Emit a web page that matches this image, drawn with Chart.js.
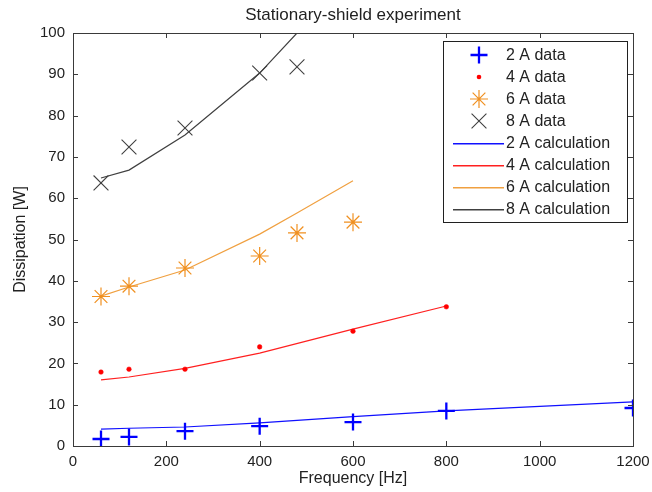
<!DOCTYPE html>
<html>
<head>
<meta charset="utf-8">
<script src="https://cdn.jsdelivr.net/npm/chart.js@4/dist/chart.umd.min.js"></script>
<style>
  html, body { margin: 0; padding: 0; background: #ffffff; }
  #c { display: block; }
</style>
</head>
<body>
<canvas id="c" width="652" height="492"></canvas>
<script>
// ---- data ----
const chartTitle = "Stationary-shield experiment";
const xLabel = "Frequency [Hz]";
const yLabel = "Dissipation [W]";
const xTicks = [0, 200, 400, 600, 800, 1000, 1200];
const yTicks = [0, 10, 20, 30, 40, 50, 60, 70, 80, 90, 100];

const freq2A = [60, 120, 240, 400, 600, 800, 1200];
const data2A = [1.7, 2.2, 3.6, 4.8, 5.8, 8.5, 9.2];
const calc2A = [4.1, 4.3, 4.6, 5.6, 7.1, 8.5, 10.7];

const freq4A = [60, 120, 240, 400, 600, 800];
const data4A = [17.9, 18.6, 18.6, 24.0, 27.8, 33.7];
const calc4A = [16.0, 16.7, 18.8, 22.5, 28.3, 33.9];

const freq6A = [60, 120, 240, 400, 480, 600];
const data6A = [36.2, 38.7, 43.1, 46.0, 51.6, 54.2];
const calc6A = [36.3, 38.5, 42.6, 51.3, 56.4, 64.2];

const freq8A = [60, 120, 240, 400, 480];
const data8A = [63.7, 72.4, 77.0, 90.3, 91.8];
const calc8A = [64.9, 66.8, 75.3, 90.3, 100.0];

const seriesLabels = ["2 A data", "4 A data", "6 A data", "8 A data",
                      "2 A calculation", "4 A calculation", "6 A calculation", "8 A calculation"];

function pts(xs, ys) { return xs.map((x, i) => ({ x: x, y: ys[i] })); }

const FONT = "'Liberation Sans', Arial, sans-serif";
const AXIS_COLOR = "#3a3a3a";

// style table for each series
const styles = [
  { line: false, marker: 'cross',    r: 8.5,  w: 2.3, color: '#0000ff' },
  { line: false, marker: 'circle',   r: 2.3,  w: 0.5, color: '#ff0000' },
  { line: false, marker: 'star',     r: 9,    w: 1.2, color: '#f09020' },
  { line: false, marker: 'crossRot', r: 10.5, w: 1.1, color: '#404040' },
  { line: true,  w: 1.2, color: '#1010ff' },
  { line: true,  w: 1.2, color: '#ff2020' },
  { line: true,  w: 1.2, color: '#f0a040' },
  { line: true,  w: 1.2, color: '#404040' }
];
const seriesData = [
  pts(freq2A, data2A), pts(freq4A, data4A), pts(freq6A, data6A), pts(freq8A, data8A),
  pts(freq2A, calc2A), pts(freq4A, calc4A), pts(freq6A, calc6A), pts(freq8A, calc8A)
];

const datasets = seriesData.map((d, i) => {
  const s = styles[i];
  if (s.line) {
    return { label: seriesLabels[i], data: d, showLine: true, pointRadius: 0,
             borderWidth: s.w, borderColor: s.color, backgroundColor: s.color };
  }
  return { label: seriesLabels[i], data: d, showLine: false,
           pointStyle: s.marker, pointRadius: s.r, pointBorderWidth: s.w,
           borderColor: s.color, backgroundColor: s.color };
});

function drawMarker(ctx, style, r, x, y) {
  ctx.beginPath();
  if (style === 'circle') {
    ctx.arc(x, y, r, 0, Math.PI * 2);
    ctx.fill();
    return;
  }
  const d = r * Math.SQRT1_2;
  if (style === 'cross' || style === 'star') {
    ctx.moveTo(x - r, y); ctx.lineTo(x + r, y);
    ctx.moveTo(x, y - r); ctx.lineTo(x, y + r);
  }
  if (style === 'crossRot' || style === 'star') {
    ctx.moveTo(x - d, y - d); ctx.lineTo(x + d, y + d);
    ctx.moveTo(x - d, y + d); ctx.lineTo(x + d, y - d);
  }
  ctx.stroke();
}

const matlabFrame = {
  id: 'matlabFrame',
  afterDatasetsDraw(chart) {
    const ctx = chart.ctx;
    const a = chart.chartArea;
    const xs = chart.scales.x, ys = chart.scales.y;
    ctx.save();
    // box
    ctx.strokeStyle = AXIS_COLOR;
    ctx.lineWidth = 1;
    ctx.strokeRect(Math.round(a.left) + 0.5, Math.round(a.top) + 0.5,
                   Math.round(a.right - a.left), Math.round(a.bottom - a.top));
    // inward ticks
    const tl = 5;
    ctx.beginPath();
    xs.ticks.forEach(t => {
      const px = Math.round(xs.getPixelForValue(t.value)) + 0.5;
      ctx.moveTo(px, a.bottom); ctx.lineTo(px, a.bottom - tl);
      ctx.moveTo(px, a.top); ctx.lineTo(px, a.top + tl);
    });
    ys.ticks.forEach(t => {
      const py = Math.round(ys.getPixelForValue(t.value)) + 0.5;
      ctx.moveTo(a.left, py); ctx.lineTo(a.left + tl, py);
      ctx.moveTo(a.right, py); ctx.lineTo(a.right - tl, py);
    });
    ctx.stroke();

    // title
    ctx.fillStyle = '#222222';
    ctx.font = "17px " + FONT;
    ctx.textAlign = 'center';
    ctx.textBaseline = 'middle';
    ctx.fillText(chartTitle, (a.left + a.right) / 2, 15);

    // legend
    const lx = 443, ly = 41, lw = 184, lh = 181;
    ctx.fillStyle = '#ffffff';
    ctx.fillRect(lx, ly, lw, lh);
    ctx.strokeStyle = '#202020';
    ctx.lineWidth = 1;
    ctx.strokeRect(lx + 0.5, ly + 0.5, lw, lh);
    ctx.font = "16px " + FONT;
    ctx.textAlign = 'left';
    ctx.textBaseline = 'middle';
    seriesLabels.forEach((lab, i) => {
      const s = styles[i];
      const cy = 55 + i * 22;
      if (s.line) {
        ctx.fillStyle = s.color;
        ctx.fillRect(453, cy, 51, 1.5);
      } else {
        ctx.strokeStyle = s.color;
        ctx.fillStyle = s.color;
        ctx.lineWidth = s.w;
        drawMarker(ctx, s.marker, s.r, 479, cy);
      }
      ctx.fillStyle = '#222222';
      ctx.fillText(lab, 506, cy + 1);
    });
    ctx.restore();
  }
};

new Chart(document.getElementById('c'), {
  type: 'scatter',
  data: { datasets: datasets },
  options: {
    responsive: false,
    animation: false,
    devicePixelRatio: 1,
    layout: { padding: { top: 33, right: 19, left: 0, bottom: 0 } },
    plugins: {
      legend: { display: false },
      title: { display: false },
      tooltip: { enabled: false }
    },
    scales: {
      x: {
        type: 'linear', min: 0, max: 1200,
        afterBuildTicks(s) { s.ticks = xTicks.map(v => ({ value: v })); },
        afterFit(s) { s.height = 46; s.paddingLeft = 0; s.paddingRight = 0; },
        grid: { display: false, drawTicks: false },
        border: { display: false },
        ticks: { color: '#222222', padding: 7, maxRotation: 0, autoSkip: false,
                 callback: v => String(v),
                 font: { family: FONT, size: 15 } },
        title: { display: true, text: xLabel, color: '#222222',
                 font: { family: FONT, size: 16 }, padding: { top: 0, bottom: 4 } }
      },
      y: {
        type: 'linear', min: 0, max: 100,
        afterBuildTicks(s) { s.ticks = yTicks.map(v => ({ value: v })); },
        afterFit(s) { s.width = 73; s.paddingTop = 0; s.paddingBottom = 0; },
        grid: { display: false, drawTicks: false },
        border: { display: false },
        ticks: { color: '#222222', padding: 8, autoSkip: false,
                 callback: v => String(v),
                 font: { family: FONT, size: 15 } },
        title: { display: true, text: yLabel, color: '#222222',
                 font: { family: FONT, size: 16 }, padding: { top: 11, bottom: 0 } }
      }
    }
  },
  plugins: [matlabFrame]
});
</script>
</body>
</html>
